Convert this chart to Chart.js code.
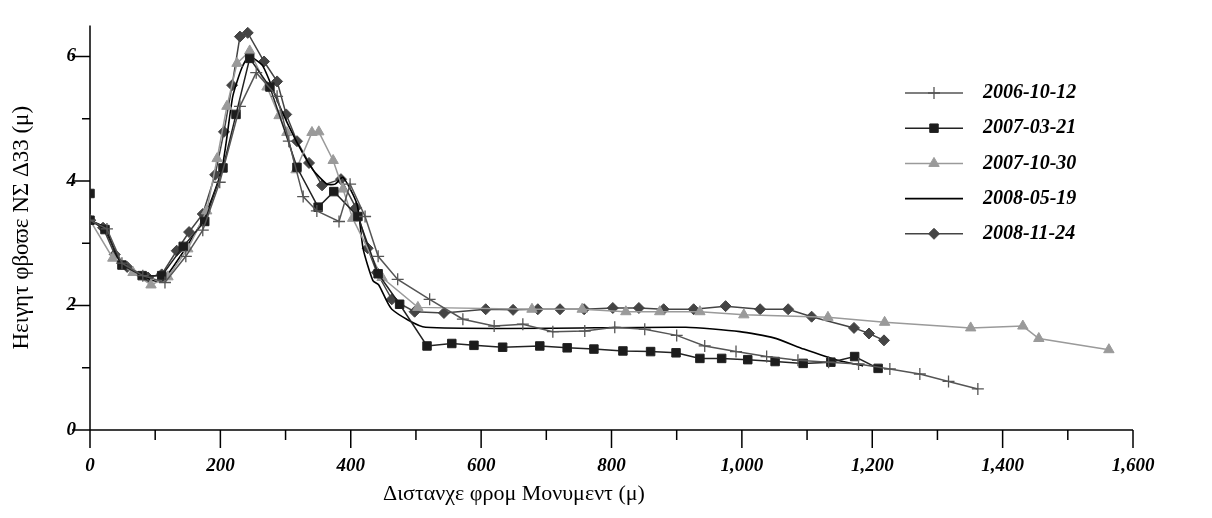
<!DOCTYPE html>
<html>
<head>
<meta charset="utf-8">
<script src="https://cdn.jsdelivr.net/npm/chart.js@4.4.1/dist/chart.umd.min.js"></script>
<style>
  html, body { margin: 0; padding: 0; background: #fff; }
</style>
</head>
<body>
<canvas id="profile" width="1212" height="518"></canvas>
<script>
// survey names (legend)
const seriesNames = ['2006-10-12', '2007-03-21', '2007-10-30', '2008-05-19', '2008-11-24'];

// distance from monument (m) / height (m) for each survey
const dist1 = [0, 26, 49, 81, 115, 147, 173, 199, 230, 255, 287, 305, 327, 348, 382, 399, 422, 442, 472, 521, 572, 620, 664, 710, 759, 805, 851, 900, 943, 991, 1038, 1086, 1133, 1179, 1227, 1273, 1317, 1362];
const height1 = [3.37, 3.23, 2.68, 2.48, 2.37, 2.79, 3.21, 3.98, 5.20, 5.74, 5.36, 4.64, 3.75, 3.52, 3.35, 3.95, 3.43, 2.79, 2.42, 2.10, 1.78, 1.67, 1.70, 1.58, 1.59, 1.65, 1.62, 1.52, 1.35, 1.26, 1.18, 1.12, 1.09, 1.06, 0.98, 0.90, 0.78, 0.66];

const dist2 = [0, 0, 23, 49, 80, 110, 143, 176, 204, 224, 245, 276, 317.5, 350, 374, 411, 442, 475, 517, 555, 589, 633, 690, 732, 773, 817.5, 860, 899, 935.6, 969, 1009, 1051, 1094, 1136.5, 1173, 1209];
const height2 = [3.80, 3.37, 3.22, 2.65, 2.48, 2.48, 2.95, 3.35, 4.21, 5.07, 5.97, 5.51, 4.22, 3.58, 3.83, 3.43, 2.51, 2.02, 1.35, 1.39, 1.36, 1.33, 1.35, 1.32, 1.30, 1.27, 1.26, 1.24, 1.15, 1.15, 1.13, 1.10, 1.07, 1.09, 1.18, 0.99];

const dist3 = [0, 35, 66, 93.6, 119.6, 150, 179, 195, 210, 225.5, 245, 271.5, 290, 302, 316, 340.5, 351, 373, 388, 403, 448, 503, 678, 755, 822, 874, 935.6, 1003, 1132, 1219, 1351, 1431, 1455.5, 1563];
const height3 = [3.37, 2.76, 2.53, 2.33, 2.46, 2.91, 3.52, 4.36, 5.20, 5.89, 6.09, 5.51, 5.05, 4.78, 4.18, 4.78, 4.79, 4.33, 3.87, 3.40, 2.45, 1.97, 1.94, 1.94, 1.90, 1.90, 1.90, 1.85, 1.81, 1.73, 1.64, 1.67, 1.47, 1.29];

const dist4 = [0, 23, 46, 96.6, 112, 173, 202, 219, 233, 244, 265, 291, 317.5, 342, 363.5, 376, 388, 409.5, 419, 434, 443, 463, 515, 914, 997, 1049, 1095, 1147, 1186];
const height4 = [3.37, 3.25, 2.71, 2.40, 2.40, 3.37, 4.18, 5.36, 5.82, 6.0, 5.85, 5.20, 4.62, 4.18, 3.95, 3.95, 4.06, 3.63, 2.91, 2.40, 2.33, 1.94, 1.65, 1.65, 1.58, 1.48, 1.30, 1.12, 1.03];

const dist5 = [0, 20, 38, 57, 89, 110, 133, 152, 173, 192, 205.5, 218, 230, 242, 267, 287, 301, 317.5, 336, 356, 385, 408, 426, 440, 463, 498, 543, 607, 649, 687, 721, 758, 802, 842, 880, 926, 975, 1028, 1071, 1107, 1172, 1195, 1218];
const height5 = [3.37, 3.25, 2.82, 2.62, 2.45, 2.50, 2.88, 3.18, 3.47, 4.10, 4.79, 5.54, 6.32, 6.38, 5.92, 5.60, 5.07, 4.64, 4.29, 3.93, 4.03, 3.57, 2.92, 2.53, 2.10, 1.90, 1.88, 1.94, 1.93, 1.94, 1.94, 1.94, 1.96, 1.96, 1.94, 1.94, 1.99, 1.94, 1.94, 1.82, 1.64, 1.55, 1.44];

// axis ticks
const xTickValues = [0, 100, 200, 300, 400, 500, 600, 700, 800, 900, 1000, 1100, 1200, 1300, 1400, 1500, 1600];
const xTickLabels = ['0', '', '200', '', '400', '', '600', '', '800', '', '1,000', '', '1,200', '', '1,400', '', '1,600'];
const yTickValues = [0, 1, 2, 3, 4, 5, 6];
const yTickLabels = ['0', '', '2', '', '4', '', '6'];

const xTitle = 'Διστανχε φρομ Μονυμεντ (μ)';
const yTitle = 'Ηειγητ φβοϖε ΝΣ Δ33 (μ)';

const toPoints = (xs, ys) => xs.map((x, i) => ({ x: x, y: ys[i] }));

const datasets = [
  { label: seriesNames[0], data: toPoints(dist1, height1), borderColor: '#555', backgroundColor: '#555',
    borderWidth: 1.5, pointStyle: 'cross', pointRadius: 6, pointBorderWidth: 1.3 },
  { label: seriesNames[1], data: toPoints(dist2, height2), borderColor: '#222', backgroundColor: '#1c1c1c',
    borderWidth: 1.5, pointStyle: 'rect', pointRadius: 6, pointBorderWidth: 1 },
  { label: seriesNames[2], data: toPoints(dist3, height3), borderColor: '#9a9a9a', backgroundColor: '#9a9a9a',
    borderWidth: 1.5, pointStyle: 'triangle', pointRadius: 6, pointBorderWidth: 1 },
  { label: seriesNames[3], data: toPoints(dist4, height4), borderColor: '#000', backgroundColor: '#000',
    borderWidth: 1.6, pointRadius: 0, tension: 0.2 },
  { label: seriesNames[4], data: toPoints(dist5, height5), borderColor: '#444', backgroundColor: '#444',
    borderWidth: 1.5, pointStyle: 'rectRot', pointRadius: 5.5, pointBorderWidth: 1 }
];

// axis lines, major/minor ticks, titles and the legend box
const profileDecor = {
  id: 'profileDecor',
  beforeDatasetsDraw(chart) {
    const { ctx, chartArea: a, scales: { x, y } } = chart;
    ctx.save();
    ctx.strokeStyle = '#000';
    ctx.lineWidth = 1.5;
    ctx.beginPath();
    ctx.moveTo(a.left, a.top);
    ctx.lineTo(a.left, a.bottom + 18);
    ctx.moveTo(a.left, a.bottom);
    ctx.lineTo(a.right, a.bottom);
    x.ticks.forEach(t => {
      const px = x.getPixelForValue(t.value);
      const len = t.value % 200 === 0 ? 18 : 10;
      ctx.moveTo(px, a.bottom);
      ctx.lineTo(px, a.bottom + len);
    });
    y.ticks.forEach(t => {
      const py = y.getPixelForValue(t.value);
      const len = t.value % 2 === 0 ? 18 : 8;
      ctx.moveTo(a.left - len, py);
      ctx.lineTo(a.left, py);
    });
    ctx.stroke();

    ctx.fillStyle = '#000';
    ctx.font = '22px "Liberation Serif", "DejaVu Serif", serif';
    ctx.textBaseline = 'middle';
    ctx.textAlign = 'left';
    ctx.fillText(xTitle, 383, 494);
    ctx.translate(22, (a.top + a.bottom) / 2);
    ctx.rotate(-Math.PI / 2);
    ctx.textAlign = 'center';
    ctx.font = '23px "Liberation Serif", "DejaVu Serif", serif';
    ctx.fillText(yTitle, 0, 0);
    ctx.restore();
  },
  afterDraw(chart) {
    const { ctx } = chart;
    ctx.save();
    chart.data.datasets.forEach((ds, i) => {
      const cy = 93 + i * 35.2;
      ctx.strokeStyle = ds.borderColor;
      ctx.fillStyle = ds.backgroundColor;
      ctx.lineWidth = ds.borderWidth;
      ctx.beginPath();
      ctx.moveTo(905, cy);
      ctx.lineTo(963, cy);
      ctx.stroke();
      if (ds.pointRadius > 0) {
        ctx.lineWidth = ds.pointBorderWidth;
        Chart.helpers.drawPoint(ctx, { pointStyle: ds.pointStyle, radius: ds.pointRadius, borderWidth: ds.pointBorderWidth, rotation: 0 }, 934, cy);
      }
      ctx.fillStyle = '#000';
      ctx.font = 'bold italic 20px "Liberation Serif", serif';
      ctx.textAlign = 'left';
      ctx.textBaseline = 'middle';
      ctx.fillText(ds.label, 983, cy);
    });
    ctx.restore();
  }
};

new Chart(document.getElementById('profile'), {
  type: 'line',
  data: { datasets: datasets },
  options: {
    responsive: false,
    animation: false,
    devicePixelRatio: 1,
    layout: { padding: { top: 5, right: 79, left: 0, bottom: 0 } },
    plugins: { legend: { display: false }, tooltip: { enabled: false } },
    scales: {
      x: {
        type: 'linear',
        min: 0,
        max: 1600,
        afterBuildTicks: s => { s.ticks = xTickValues.map(v => ({ value: v })); },
        afterFit: s => { s.height = 88; },
        grid: { display: false, drawTicks: false },
        border: { display: false },
        ticks: {
          autoSkip: false,
          maxRotation: 0,
          padding: 25,
          color: '#000',
          font: { family: '"Liberation Serif", serif', size: 19, style: 'italic', weight: 'bold' },
          callback: (v) => xTickLabels[xTickValues.indexOf(v)]
        }
      },
      y: {
        type: 'linear',
        min: 0,
        max: 6.5,
        afterBuildTicks: s => { s.ticks = yTickValues.map(v => ({ value: v })); },
        afterFit: s => { s.width = 90; },
        grid: { display: false, drawTicks: false },
        border: { display: false },
        ticks: {
          autoSkip: false,
          padding: 14,
          color: '#000',
          font: { family: '"Liberation Serif", serif', size: 19, style: 'italic', weight: 'bold' },
          callback: (v) => yTickLabels[yTickValues.indexOf(v)]
        }
      }
    }
  },
  plugins: [profileDecor]
});
</script>
</body>
</html>
